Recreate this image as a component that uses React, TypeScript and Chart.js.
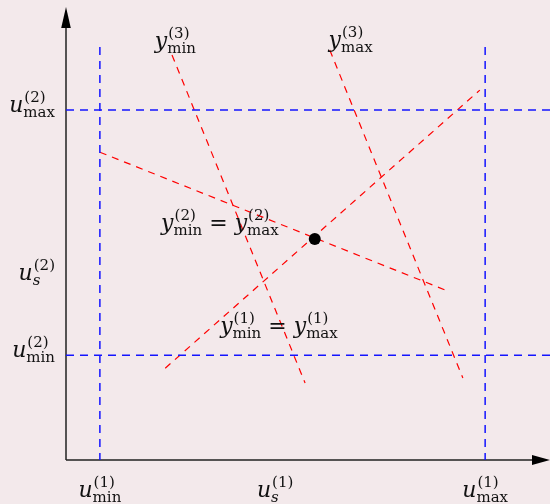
import React, { useEffect, useRef } from "react";
import { Chart, registerables } from "chart.js";

Chart.register(...registerables);

// ---- data (abstract units: x 0..10, y 0..10) ----
const X_MAX = 10;
const Y_MAX = 10;

const xTickValues = [0.7, 4.32, 8.66]; // u_min(1), u_s(1), u_max(1)
const yTickValues = [2.33, 4.04, 7.78]; // u_min(2), u_s(2), u_max(2)
const guideTop = 9.18;

const xTickLabels = [
  { base: "u", sub: "min", sup: "(1)" },
  { base: "u", sub: "s", sup: "(1)", subItalic: true },
  { base: "u", sub: "max", sup: "(1)" },
];
const yTickLabels = [
  { base: "u", sub: "min", sup: "(2)" },
  { base: "u", sub: "s", sup: "(2)", subItalic: true },
  { base: "u", sub: "max", sup: "(2)" },
];

// red constraint lines (start point, end point)
const lineEq2X = [0.7, 7.83];
const lineEq2Y = [6.84, 3.78];
const lineEq1X = [2.05, 8.55];
const lineEq1Y = [2.04, 8.22];
const lineMin3X = [2.19, 4.94];
const lineMin3Y = [9.0, 1.71];
const lineMax3X = [5.45, 8.2];
const lineMax3Y = [9.11, 1.82];

const solutionX = [5.14];
const solutionY = [4.91];

type Piece = { base: string; sub?: string; sup?: string; subItalic?: boolean } | string;

// annotation anchors (center x, baseline y) in data units
const annX = [2.26, 5.88, 3.18, 4.4];
const annY = [9.16, 9.18, 5.11, 2.82];
const annTexts: Piece[][] = [
  [{ base: "y", sub: "min", sup: "(3)" }],
  [{ base: "y", sub: "max", sup: "(3)" }],
  [{ base: "y", sub: "min", sup: "(2)" }, " = ", { base: "y", sub: "max", sup: "(2)" }],
  [{ base: "y", sub: "min", sup: "(1)" }, " = ", { base: "y", sub: "max", sup: "(1)" }],
];

const BG = "#f3e9eb";
const BLUE = "rgb(20,20,255)";
const RED = "rgb(255,0,0)";
const FONT_MAIN_I = 'italic 22px "DejaVu Serif"';
const FONT_MAIN = '22px "DejaVu Serif"';
const FONT_SMALL = '15px "DejaVu Serif"';
const FONT_SMALL_I = 'italic 15px "DejaVu Serif"';

function pieceWidth(ctx: CanvasRenderingContext2D, p: Piece): number {
  if (typeof p === "string") {
    ctx.font = FONT_MAIN;
    return ctx.measureText(p).width;
  }
  ctx.font = FONT_MAIN_I;
  const bw = ctx.measureText(p.base).width;
  ctx.font = p.subItalic ? FONT_SMALL_I : FONT_SMALL;
  const sw = p.sub ? ctx.measureText(p.sub).width : 0;
  ctx.font = FONT_SMALL;
  const pw = p.sup ? ctx.measureText(p.sup).width + 1 : 0;
  return bw + Math.max(sw, pw);
}

function drawMath(
  ctx: CanvasRenderingContext2D,
  pieces: Piece[],
  x: number,
  y: number,
  align: "left" | "center" | "right"
) {
  const total = pieces.reduce((s, p) => s + pieceWidth(ctx, p), 0);
  let cx = align === "left" ? x : align === "center" ? x - total / 2 : x - total;
  ctx.save();
  ctx.fillStyle = "#111";
  ctx.textAlign = "left";
  ctx.textBaseline = "alphabetic";
  for (const p of pieces) {
    if (typeof p === "string") {
      ctx.font = FONT_MAIN;
      ctx.fillText(p, cx, y);
      cx += ctx.measureText(p).width;
      continue;
    }
    ctx.font = FONT_MAIN_I;
    ctx.fillText(p.base, cx, y);
    const bw = ctx.measureText(p.base).width;
    if (p.sub) {
      ctx.font = p.subItalic ? FONT_SMALL_I : FONT_SMALL;
      ctx.fillText(p.sub, cx + bw, y + 5);
    }
    if (p.sup) {
      ctx.font = FONT_SMALL;
      ctx.fillText(p.sup, cx + bw + 1, y - 10);
    }
    cx += pieceWidth(ctx, p);
  }
  ctx.restore();
}

const decorPlugin = {
  id: "decor",
  beforeDraw(chart: any) {
    const { ctx, width, height } = chart;
    ctx.save();
    ctx.fillStyle = BG;
    ctx.fillRect(0, 0, width, height);
    ctx.restore();
  },
  beforeDatasetsDraw(chart: any) {
    const { ctx } = chart;
    const xs = chart.scales.x;
    const ys = chart.scales.y;
    const ox = xs.getPixelForValue(0);
    const oy = ys.getPixelForValue(0);
    const topTip = ys.getPixelForValue(Y_MAX) - 3;
    const rightTip = xs.getPixelForValue(X_MAX);
    ctx.save();
    ctx.strokeStyle = "#222";
    ctx.fillStyle = "#000";
    ctx.lineWidth = 1.5;
    ctx.beginPath();
    ctx.moveTo(ox, oy);
    ctx.lineTo(ox, topTip + 18);
    ctx.moveTo(ox, oy);
    ctx.lineTo(rightTip - 16, oy);
    ctx.stroke();
    // arrowheads
    ctx.beginPath();
    ctx.moveTo(ox, topTip);
    ctx.lineTo(ox - 4.8, topTip + 21);
    ctx.lineTo(ox + 4.8, topTip + 21);
    ctx.closePath();
    ctx.fill();
    ctx.beginPath();
    ctx.moveTo(rightTip, oy);
    ctx.lineTo(rightTip - 18, oy - 5);
    ctx.lineTo(rightTip - 18, oy + 5);
    ctx.closePath();
    ctx.fill();
    ctx.restore();
  },
  afterDatasetsDraw(chart: any) {
    const { ctx } = chart;
    const xs = chart.scales.x;
    const ys = chart.scales.y;
    const oy = ys.getPixelForValue(0);
    const ox = xs.getPixelForValue(0);
    xTickValues.forEach((v, i) => {
      drawMath(ctx, [xTickLabels[i]], xs.getPixelForValue(v), oy + 37, "center");
    });
    yTickValues.forEach((v, i) => {
      drawMath(ctx, [yTickLabels[i]], ox - 11, ys.getPixelForValue(v) + 2, "right");
    });
    annTexts.forEach((t, i) => {
      drawMath(ctx, t, xs.getPixelForValue(annX[i]), ys.getPixelForValue(annY[i]), "center");
    });
  },
};

function seg(xa: number[], ya: number[]) {
  return xa.map((x, i) => ({ x, y: ya[i] }));
}

function lineDs(points: { x: number; y: number }[], color: string, dash: number[], width: number) {
  return {
    data: points,
    showLine: true,
    borderColor: color,
    backgroundColor: color,
    borderWidth: width,
    borderDash: dash,
    pointRadius: 0,
    fill: false,
    clip: false as any,
    order: 1,
  };
}

export default function App() {
  const ref = useRef<HTMLCanvasElement | null>(null);
  useEffect(() => {
    document.body.style.margin = "0";
    document.body.style.background = BG;
    const canvas = ref.current!;
    const blueDash = [8, 6];
    const redDash = [7, 6];
    const datasets: any[] = [
      // blue guides: horizontal
      lineDs(seg([0, X_MAX], [yTickValues[0], yTickValues[0]]), BLUE, blueDash, 1.5),
      lineDs(seg([0, X_MAX], [yTickValues[2], yTickValues[2]]), BLUE, blueDash, 1.5),
      // blue guides: vertical
      lineDs(seg([xTickValues[0], xTickValues[0]], [guideTop, 0]), BLUE, blueDash, 1.5),
      lineDs(seg([xTickValues[2], xTickValues[2]], [guideTop, 0]), BLUE, blueDash, 1.5),
      // red constraint lines
      lineDs(seg(lineEq2X, lineEq2Y), RED, redDash, 1.2),
      lineDs(seg(lineEq1X, lineEq1Y), RED, redDash, 1.2),
      lineDs(seg(lineMin3X, lineMin3Y), RED, redDash, 1.2),
      lineDs(seg(lineMax3X, lineMax3Y), RED, redDash, 1.2),
      {
        data: seg(solutionX, solutionY),
        pointRadius: 6,
        pointBackgroundColor: "#000",
        pointBorderColor: "#000",
        pointBorderWidth: 0,
        showLine: false,
        clip: false,
        order: 0,
      },
    ];
    const chart = new Chart(canvas, {
      type: "scatter",
      data: { datasets },
      options: {
        animation: false,
        responsive: false,
        maintainAspectRatio: false,
        devicePixelRatio: 1,
        layout: { autoPadding: false, padding: { left: 66, right: 0, top: 10, bottom: 44 } },
        scales: {
          x: { type: "linear", min: 0, max: X_MAX, display: false },
          y: { type: "linear", min: 0, max: Y_MAX, display: false },
        },
        plugins: { legend: { display: false }, tooltip: { enabled: false } },
        events: [],
      },
      plugins: [decorPlugin],
    });
    return () => chart.destroy();
  }, []);
  return (
    <canvas ref={ref} width={550} height={504} style={{ display: "block", width: 550, height: 504 }} />
  );
}
